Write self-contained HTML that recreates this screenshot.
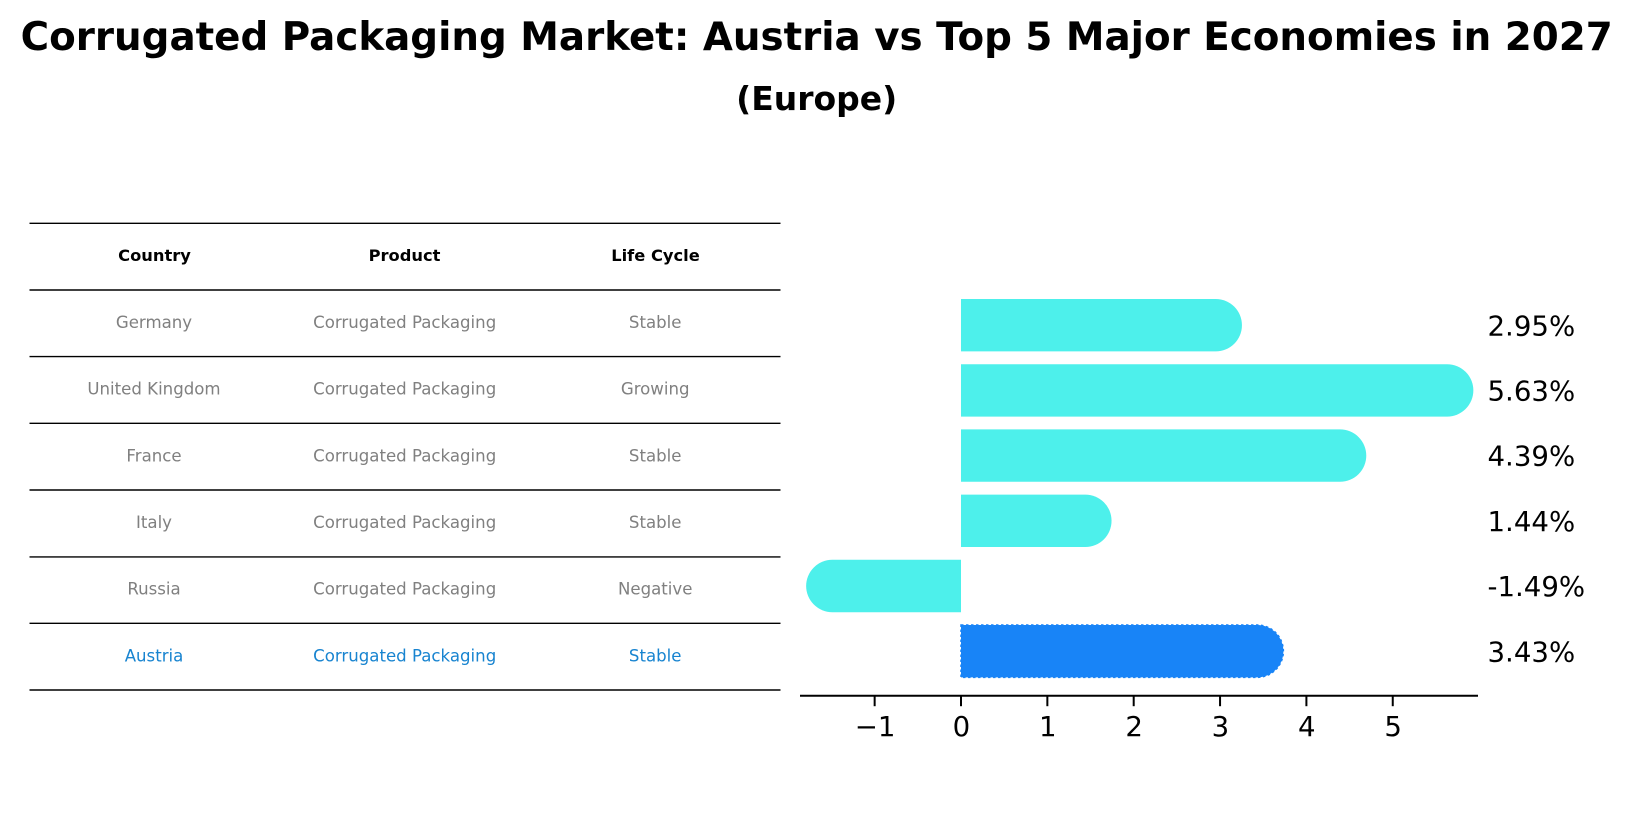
<!DOCTYPE html>
<html lang="en">
<head>
<meta charset="utf-8">
<title>Corrugated Packaging Market: Austria vs Top 5 Major Economies in 2027</title>
<style>
html,body{margin:0;padding:0;background:#fff;width:1633px;height:823px;overflow:hidden}
svg{display:block;font-family:"DejaVu Sans","Liberation Sans",sans-serif}
.title{font-weight:700;text-anchor:middle;fill:#000}
.rule{stroke:#000;stroke-width:1.4}
.cell{font-size:16.6px;text-anchor:middle;fill:#808080}
.head{font-size:16.3px;font-weight:700;text-anchor:middle;fill:#000}
.hl{fill:#1884d0}
</style>
</head>
<body>
<svg id="chart" xmlns="http://www.w3.org/2000/svg" width="1633" height="823" viewBox="0 0 1633 823">
<rect width="1633" height="823" fill="#fff"/>
<text class="title" x="816.7" y="50" font-size="38.8">Corrugated Packaging Market: Austria vs Top 5 Major Economies in 2027</text>
<text class="title" x="816.7" y="110" font-size="33">(Europe)</text>

<g>
<line class="rule" x1="29.5" x2="780.5" y1="223.3" y2="223.3"/>
<line class="rule" x1="29.5" x2="780.5" y1="290" y2="290"/>
<line class="rule" x1="29.5" x2="780.5" y1="356.6" y2="356.6"/>
<line class="rule" x1="29.5" x2="780.5" y1="423.3" y2="423.3"/>
<line class="rule" x1="29.5" x2="780.5" y1="490" y2="490"/>
<line class="rule" x1="29.5" x2="780.5" y1="556.9" y2="556.9"/>
<line class="rule" x1="29.5" x2="780.5" y1="623.3" y2="623.3"/>
<line class="rule" x1="29.5" x2="780.5" y1="690" y2="690"/>

<text class="head" x="154.5" y="261.2">Country</text>
<text class="head" x="404.5" y="261.2">Product</text>
<text class="head" x="655.5" y="261.2">Life Cycle</text>

<text class="cell" x="154" y="328.2">Germany</text>
<text class="cell" x="404.7" y="328.2">Corrugated Packaging</text>
<text class="cell" x="655.2" y="328.2">Stable</text>

<text class="cell" x="154" y="394.7">United Kingdom</text>
<text class="cell" x="404.7" y="394.7">Corrugated Packaging</text>
<text class="cell" x="655.2" y="394.7">Growing</text>

<text class="cell" x="154" y="461.5">France</text>
<text class="cell" x="404.7" y="461.5">Corrugated Packaging</text>
<text class="cell" x="655.2" y="461.5">Stable</text>

<text class="cell" x="154" y="528">Italy</text>
<text class="cell" x="404.7" y="528">Corrugated Packaging</text>
<text class="cell" x="655.2" y="528">Stable</text>

<text class="cell" x="154" y="594.7">Russia</text>
<text class="cell" x="404.7" y="594.7">Corrugated Packaging</text>
<text class="cell" x="655.2" y="594.7">Negative</text>

<text class="cell hl" x="154" y="661.4">Austria</text>
<text class="cell hl" x="404.7" y="661.4">Corrugated Packaging</text>
<text class="cell hl" x="655.2" y="661.4">Stable</text>
</g>

<g id="plot"></g>
</svg>

<script>
const categories = ["Germany", "United Kingdom", "France", "Italy", "Russia", "Austria"];
const growthValues = [2.95, 5.63, 4.39, 1.44, -1.49, 3.43];
const highlightCategory = "Austria";
const xTickLabels = [-1, 0, 1, 2, 3, 4, 5];

const SVG_NS = "http://www.w3.org/2000/svg";
const plot = document.getElementById("plot");
const xScale = function (v) { return 961 + 86.35 * v; };
const yScale = function (i) { return 325.2 + 65.2 * i; };
const BAR_HALF = 26.2;
const AXIS_Y = 695.7;

function make(tag, attrs, text) {
  const el = document.createElementNS(SVG_NS, tag);
  for (const k in attrs) { el.setAttribute(k, attrs[k]); }
  if (text !== undefined) { el.textContent = text; }
  plot.appendChild(el);
  return el;
}
function slug(s) { return s.toLowerCase().replace(/\s+/g, "-"); }

categories.forEach(function (cat, i) {
  const v = growthValues[i];
  const x0 = xScale(0);
  const xv = xScale(v);
  const cy = yScale(i);
  const top = cy - BAR_HALF;
  const bot = cy + BAR_HALF;
  const sweep = v >= 0 ? 1 : 0;
  const isHl = cat === highlightCategory;
  const color = isHl ? "#1884f7" : "#4df0eb";
  const d = "M" + x0 + " " + top + " H" + xv + " A" + BAR_HALF + " " + BAR_HALF + " 0 0 " + sweep + " " + xv + " " + bot + " H" + x0 + " Z";
  const bar = make("path", { d: d, fill: color });
  
  
  if (isHl) {
    bar.setAttribute("stroke", color);
    bar.setAttribute("stroke-width", "1.5");
    bar.setAttribute("stroke-dasharray", "2.5 2.5");
  }
  const label = make("text", { x: 1487.5, y: cy + 10.1, "font-size": 27.6, fill: "#000" }, v.toFixed(2) + "%");
  
  
});

const axisLine = make("line", { x1: 800, x2: 1478, y1: AXIS_Y, y2: AXIS_Y, stroke: "#000", "stroke-width": 2 });



xTickLabels.forEach(function (t) {
  const x = xScale(t);
  const tick = make("line", { x1: x, x2: x, y1: AXIS_Y, y2: AXIS_Y + 10.5, stroke: "#000", "stroke-width": 2 });
  
  
  const tl = make("text", { x: x + 0.4, y: 735.8, "font-size": 27.6, "text-anchor": "middle", fill: "#000" }, String(t).replace("-", "\u2212"));
  
  
});
</script>
</body>
</html>
